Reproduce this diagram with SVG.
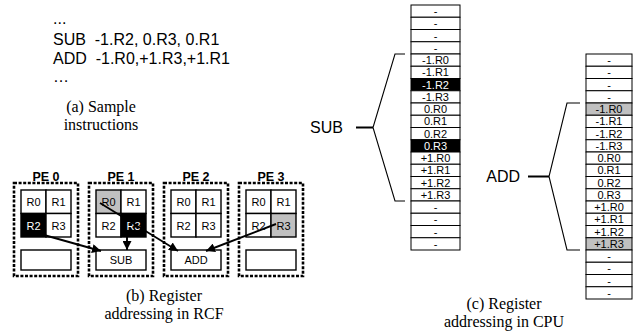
<svg xmlns="http://www.w3.org/2000/svg" width="637" height="334" viewBox="0 0 637 334">
<defs>
<style>
.s{font-family:"Liberation Sans",Arial,sans-serif;fill:#000}
.t{font-family:"Liberation Serif","Times New Roman",serif;font-size:16px;fill:#000;text-anchor:middle}
.ins{font-size:16px;white-space:pre}
.c{font-size:11px;text-anchor:middle}
.w{fill:#fff}
.pe{fill:none;stroke:#000;stroke-width:2.6;stroke-dasharray:3 1.6}
.cell{fill:#fff;stroke:#000;stroke-width:1.4}
.blk{fill:#000;stroke:#000;stroke-width:1.4}
.gry{fill:#c0c0c0;stroke:#000;stroke-width:1.4}
.row{fill:#fff;stroke:#000;stroke-width:1}
.rb{fill:#000;stroke:#000;stroke-width:1}
.rg{fill:#c0c0c0;stroke:#000;stroke-width:1}
.pl{font-size:12.5px;font-weight:bold;text-anchor:middle}
.lbl{font-size:16px;text-anchor:end}
.arr{fill:none;stroke:#000;stroke-width:1.9;marker-end:url(#ah)}
.br{fill:none;stroke:#000;stroke-width:1.1}
.stem{fill:none;stroke:#000;stroke-width:2}
</style>
<marker id="ah" markerUnits="userSpaceOnUse" markerWidth="10" markerHeight="9" refX="9" refY="4.5" orient="auto">
<path d="M0,0 L9,4.5 L0,9 Z" fill="#000"/>
</marker>
</defs>
<rect width="637" height="334" fill="#fff"/>

<g id="instructions">
<text class="s ins" x="53" y="24">...</text>
<text class="s ins" x="53" y="45">SUB  -1.R2, 0.R3, 0.R1</text>
<text class="s ins" x="53" y="63.5">ADD  -1.R0,+1.R3,+1.R1</text>
<text class="s ins" x="53" y="82">…</text>
<text class="t" x="101" y="112">(a) Sample</text>
<text class="t" x="101" y="130">instructions</text>
</g>

<g id="pe0">
<text class="s pl" x="46" y="181">PE 0</text>
<rect class="pe" x="14" y="183" width="64" height="93"/>
<rect class="cell" x="21" y="190" width="25" height="23.5"/>
<rect class="cell" x="46" y="190" width="25" height="23.5"/>
<rect class="blk" x="21" y="213.5" width="25" height="23.5"/>
<rect class="cell" x="46" y="213.5" width="25" height="23.5"/>
<text class="s c" x="33.5" y="206">R0</text>
<text class="s c" x="58.5" y="206">R1</text>
<text class="s c w" x="33.5" y="229.5">R2</text>
<text class="s c" x="58.5" y="229.5">R3</text>
<rect class="cell" x="21" y="250" width="50" height="20"/>
</g>

<g id="pe1">
<text class="s pl" x="121" y="181">PE 1</text>
<rect class="pe" x="89" y="183" width="64" height="93"/>
<rect class="gry" x="96" y="190" width="25" height="23.5"/>
<rect class="cell" x="121" y="190" width="25" height="23.5"/>
<rect class="cell" x="96" y="213.5" width="25" height="23.5"/>
<rect class="blk" x="121" y="213.5" width="25" height="23.5"/>
<text class="s c" x="108.5" y="206">R0</text>
<text class="s c" x="133.5" y="206">R1</text>
<text class="s c" x="108.5" y="229.5">R2</text>
<text class="s c w" x="133.5" y="229.5">R3</text>
<rect class="cell" x="96" y="250" width="50" height="20"/>
<text class="s c" x="121" y="264">SUB</text>
</g>

<g id="pe2">
<text class="s pl" x="196" y="181">PE 2</text>
<rect class="pe" x="164" y="183" width="64" height="93"/>
<rect class="cell" x="171" y="190" width="25" height="23.5"/>
<rect class="cell" x="196" y="190" width="25" height="23.5"/>
<rect class="cell" x="171" y="213.5" width="25" height="23.5"/>
<rect class="cell" x="196" y="213.5" width="25" height="23.5"/>
<text class="s c" x="183.5" y="206">R0</text>
<text class="s c" x="208.5" y="206">R1</text>
<text class="s c" x="183.5" y="229.5">R2</text>
<text class="s c" x="208.5" y="229.5">R3</text>
<rect class="cell" x="171" y="250" width="50" height="20"/>
<text class="s c" x="196" y="264">ADD</text>
</g>

<g id="pe3">
<text class="s pl" x="271" y="181">PE 3</text>
<rect class="pe" x="239" y="183" width="64" height="93"/>
<rect class="cell" x="246" y="190" width="25" height="23.5"/>
<rect class="cell" x="271" y="190" width="25" height="23.5"/>
<rect class="cell" x="246" y="213.5" width="25" height="23.5"/>
<rect class="gry" x="271" y="213.5" width="25" height="23.5"/>
<text class="s c" x="258.5" y="206">R0</text>
<text class="s c" x="283.5" y="206">R1</text>
<text class="s c" x="258.5" y="229.5">R2</text>
<text class="s c" x="283.5" y="229.5">R3</text>
<rect class="cell" x="246" y="250" width="50" height="20"/>
</g>

<g id="caption-b">
<text class="t" x="164" y="301">(b) Register</text>
<text class="t" x="164" y="319">addressing in RCF</text>
</g>

<g id="cpu-sub">
<rect class="row" x="411" y="5" width="49" height="12.25"/>
<rect class="row" x="411" y="17.25" width="49" height="12.25"/>
<rect class="row" x="411" y="29.5" width="49" height="12.25"/>
<rect class="row" x="411" y="41.75" width="49" height="12.25"/>
<rect class="row" x="411" y="54" width="49" height="12.25"/>
<rect class="row" x="411" y="66.25" width="49" height="12.25"/>
<rect class="rb" x="411" y="78.5" width="49" height="12.25"/>
<rect class="row" x="411" y="90.75" width="49" height="12.25"/>
<rect class="row" x="411" y="103" width="49" height="12.25"/>
<rect class="row" x="411" y="115.25" width="49" height="12.25"/>
<rect class="row" x="411" y="127.5" width="49" height="12.25"/>
<rect class="rb" x="411" y="139.75" width="49" height="12.25"/>
<rect class="row" x="411" y="152" width="49" height="12.25"/>
<rect class="row" x="411" y="164.25" width="49" height="12.25"/>
<rect class="row" x="411" y="176.5" width="49" height="12.25"/>
<rect class="row" x="411" y="188.75" width="49" height="12.25"/>
<rect class="row" x="411" y="201" width="49" height="12.25"/>
<rect class="row" x="411" y="213.25" width="49" height="12.25"/>
<rect class="row" x="411" y="225.5" width="49" height="12.25"/>
<rect class="row" x="411" y="237.75" width="49" height="12.25"/>
<text class="s c" x="435.5" y="15">-</text>
<text class="s c" x="435.5" y="27.25">-</text>
<text class="s c" x="435.5" y="39.5">-</text>
<text class="s c" x="435.5" y="51.75">-</text>
<text class="s c" x="435.5" y="64">-1.R0</text>
<text class="s c" x="435.5" y="76.25">-1.R1</text>
<text class="s c w" x="435.5" y="88.5">-1.R2</text>
<text class="s c" x="435.5" y="100.75">-1.R3</text>
<text class="s c" x="435.5" y="113">0.R0</text>
<text class="s c" x="435.5" y="125.25">0.R1</text>
<text class="s c" x="435.5" y="137.5">0.R2</text>
<text class="s c w" x="435.5" y="149.75">0.R3</text>
<text class="s c" x="435.5" y="162">+1.R0</text>
<text class="s c" x="435.5" y="174.25">+1.R1</text>
<text class="s c" x="435.5" y="186.5">+1.R2</text>
<text class="s c" x="435.5" y="198.75">+1.R3</text>
<text class="s c" x="435.5" y="211">-</text>
<text class="s c" x="435.5" y="223.25">-</text>
<text class="s c" x="435.5" y="235.5">-</text>
<text class="s c" x="435.5" y="247.75">-</text>
<text class="s lbl" x="343" y="133">SUB</text>
</g>

<g id="cpu-add">
<rect class="row" x="586" y="54" width="46" height="12.25"/>
<rect class="row" x="586" y="66.25" width="46" height="12.25"/>
<rect class="row" x="586" y="78.5" width="46" height="12.25"/>
<rect class="row" x="586" y="90.75" width="46" height="12.25"/>
<rect class="rg" x="586" y="103" width="46" height="12.25"/>
<rect class="row" x="586" y="115.25" width="46" height="12.25"/>
<rect class="row" x="586" y="127.5" width="46" height="12.25"/>
<rect class="row" x="586" y="139.75" width="46" height="12.25"/>
<rect class="row" x="586" y="152" width="46" height="12.25"/>
<rect class="row" x="586" y="164.25" width="46" height="12.25"/>
<rect class="row" x="586" y="176.5" width="46" height="12.25"/>
<rect class="row" x="586" y="188.75" width="46" height="12.25"/>
<rect class="row" x="586" y="201" width="46" height="12.25"/>
<rect class="row" x="586" y="213.25" width="46" height="12.25"/>
<rect class="row" x="586" y="225.5" width="46" height="12.25"/>
<rect class="rg" x="586" y="237.75" width="46" height="12.25"/>
<rect class="row" x="586" y="250" width="46" height="12.25"/>
<rect class="row" x="586" y="262.25" width="46" height="12.25"/>
<rect class="row" x="586" y="274.5" width="46" height="12.25"/>
<rect class="row" x="586" y="286.75" width="46" height="12.25"/>
<text class="s c" x="609" y="64">-</text>
<text class="s c" x="609" y="76.25">-</text>
<text class="s c" x="609" y="88.5">-</text>
<text class="s c" x="609" y="100.75">-</text>
<text class="s c" x="609" y="113">-1.R0</text>
<text class="s c" x="609" y="125.25">-1.R1</text>
<text class="s c" x="609" y="137.5">-1.R2</text>
<text class="s c" x="609" y="149.75">-1.R3</text>
<text class="s c" x="609" y="162">0.R0</text>
<text class="s c" x="609" y="174.25">0.R1</text>
<text class="s c" x="609" y="186.5">0.R2</text>
<text class="s c" x="609" y="198.75">0.R3</text>
<text class="s c" x="609" y="211">+1.R0</text>
<text class="s c" x="609" y="223.25">+1.R1</text>
<text class="s c" x="609" y="235.5">+1.R2</text>
<text class="s c" x="609" y="247.75">+1.R3</text>
<text class="s c" x="609" y="260">-</text>
<text class="s c" x="609" y="272.25">-</text>
<text class="s c" x="609" y="284.5">-</text>
<text class="s c" x="609" y="296.75">-</text>
<text class="s lbl" x="520" y="182">ADD</text>
</g>

<g id="caption-c">
<text class="t" x="504" y="309">(c) Register</text>
<text class="t" x="504" y="327">addressing in CPU</text>
</g>

<g id="connectors">
<line class="arr" x1="44" y1="235" x2="101" y2="251"/>
<line class="arr" x1="127" y1="232" x2="127" y2="250"/>
<line class="arr" x1="100" y1="203" x2="178" y2="251"/>
<line class="arr" x1="276" y1="224" x2="206" y2="251"/>
<polyline class="br" points="405,54 395,54 373,127.5 395,201 405,201"/>
<line class="stem" x1="356" y1="127.5" x2="373" y2="127.5"/>
<polyline class="br" points="580,103 567,103 549,176.5 567,250 580,250"/>
<line class="stem" x1="528" y1="176.5" x2="549" y2="176.5"/>
</g>
</svg>
